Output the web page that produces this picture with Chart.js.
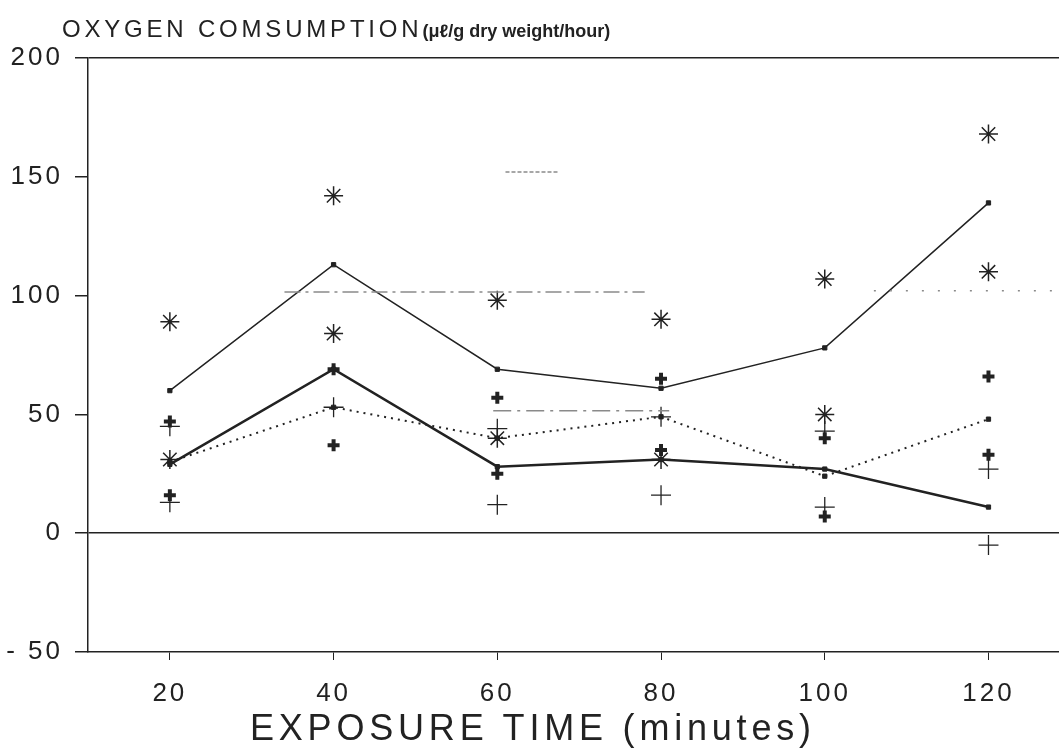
<!DOCTYPE html>
<html>
<head>
<meta charset="utf-8">
<script src="https://cdn.jsdelivr.net/npm/chart.js@4.4.0/dist/chart.umd.min.js"></script>
<style>
  html, body { margin: 0; padding: 0; background: #fff; }
  #wrap { position: relative; width: 1059px; height: 750px; overflow: hidden; }
  canvas { position: absolute; left: 0; top: 0; }
  .title { position: absolute; left: 62px; top: 15px; font-family: "Liberation Sans", Arial, sans-serif; font-size: 24px; letter-spacing: 3.8px; color: #222; white-space: nowrap; }
  .title b { font-size: 18px; letter-spacing: 0; }
  .xtitle { position: absolute; left: 250px; top: 707px; font-family: "Liberation Sans", Arial, sans-serif; font-size: 36px; letter-spacing: 4.8px; color: #222; white-space: nowrap; }
</style>
</head>
<body>
<div id="wrap">
  <canvas id="chart" width="1071" height="750"></canvas>
  <div class="title">OXYGEN COMSUMPTION<b>(μℓ/g dry weight/hour)</b></div>
  <div class="xtitle">EXPOSURE TIME (minutes)</div>
</div>
<script>
// exposure times (minutes)
const times = [20, 40, 60, 80, 100, 120];
const yTicks = [-50, 0, 50, 100, 150, 200];

// connected means
const upperMean = [60, 113, 69, 61, 78, 139];
const lowerMean = [29, 69, 28, 31, 27, 11];
const dottedMean = [30, 53, 40, 49, 24, 48];

// individual readings
const starHigh = [89, 142, 98, 90, 107, 168];
const starLow = [31, 84, 40, 31, 50, 110];
const boldPlusHigh = [47, 69, 57, 65, 40, 66];
const boldPlusLow = [16, 37, 25, 35, 7, 33];
const plusHigh = [45, 53, 44, 49, 43, 27];
const plusLow = [13, null, 12, 16, 11, -5];

// faint dash-dot marks left on the scan
const scanMarkA = [[34, 101.5], [78, 101.5]];
const scanMarkB = [[59.5, 51.5], [81, 51.5]];
const scanMarkC = [[61, 152], [67.5, 152]];
const scanMarkD = [[106, 102], [128.7, 102]];

const ink = "#222";
const pts = (ys) => times.map((t, i) => ({ x: t, y: ys[i] })).filter((p) => p.y !== null);
const segs = (arr) => arr.map((p) => ({ x: p[0], y: p[1] }));

const lineSet = (ys, width, dash) => ({
  type: "line", data: pts(ys), borderColor: ink, backgroundColor: ink,
  borderWidth: width, borderDash: dash, pointStyle: "rect", pointRadius: 3,
  pointBorderWidth: 1, tension: 0
});
const markSet = (ys, style, r, w) => ({
  type: "scatter", data: pts(ys), pointStyle: style, pointRadius: r,
  pointBorderWidth: w, borderColor: ink, backgroundColor: ink
});
const scanSet = (arr, dash) => ({
  type: "line", data: segs(arr), borderColor: "#8a8a8a", borderWidth: 1.5,
  borderDash: dash, pointRadius: 0
});

new Chart(document.getElementById("chart"), {
  type: "scatter",
  data: {
    datasets: [
      scanSet(scanMarkA, [16, 5, 3, 5]),
      scanSet(scanMarkB, [18, 6, 3, 6]),
      scanSet(scanMarkC, [4, 2]),
      scanSet(scanMarkD, [2, 14]),
      lineSet(upperMean, 1.5, []),
      lineSet(lowerMean, 2.5, []),
      lineSet(dottedMean, 2, [2, 5]),
      markSet(starHigh, "star", 9.5, 1.5),
      markSet(starLow, "star", 9.5, 1.5),
      markSet(boldPlusHigh, "cross", 6, 4),
      markSet(boldPlusLow, "cross", 6, 4),
      markSet(plusHigh, "cross", 10, 1.3),
      markSet(plusLow, "cross", 10, 1.3)
    ]
  },
  options: {
    responsive: false,
    animation: false,
    layout: { padding: { top: 58, left: 0, right: 0, bottom: 0 } },
    plugins: { legend: { display: false }, tooltip: { enabled: false } },
    scales: {
      x: {
        type: "linear", min: 10, max: 128.7,
        afterBuildTicks: (s) => { s.ticks = times.map((v) => ({ value: v })); },
        afterFit: (s) => { s.height = 98; s.paddingLeft = 0; s.paddingRight = 0; },
        border: { display: true, color: ink, width: 1.5 },
        grid: { drawOnChartArea: false, tickLength: 8, tickColor: ink },
        ticks: { color: ink, padding: 18, font: { family: "Liberation Sans", size: 26 } }
      },
      y: {
        min: -50, max: 200,
        afterBuildTicks: (s) => { s.ticks = yTicks.map((v) => ({ value: v })); },
        afterFit: (s) => { s.width = 88; s.paddingTop = 0; s.paddingBottom = 0; },
        border: { display: true, color: ink, width: 1.5 },
        grid: {
          color: (c) => (c.tick && (c.tick.value === 0 || c.tick.value === 200) ? ink : "transparent"),
          lineWidth: 1.5, tickLength: 13, tickColor: ink
        },
        ticks: {
          color: ink, padding: 12, font: { family: "Liberation Sans", size: 26 },
          callback: (v) => (v < 0 ? "- " + Math.abs(v) : String(v))
        }
      }
    }
  },
  plugins: [{
    id: "spacing",
    beforeDraw: (chart) => { chart.ctx.letterSpacing = "3px"; }
  }]
});
</script>
</body>
</html>
